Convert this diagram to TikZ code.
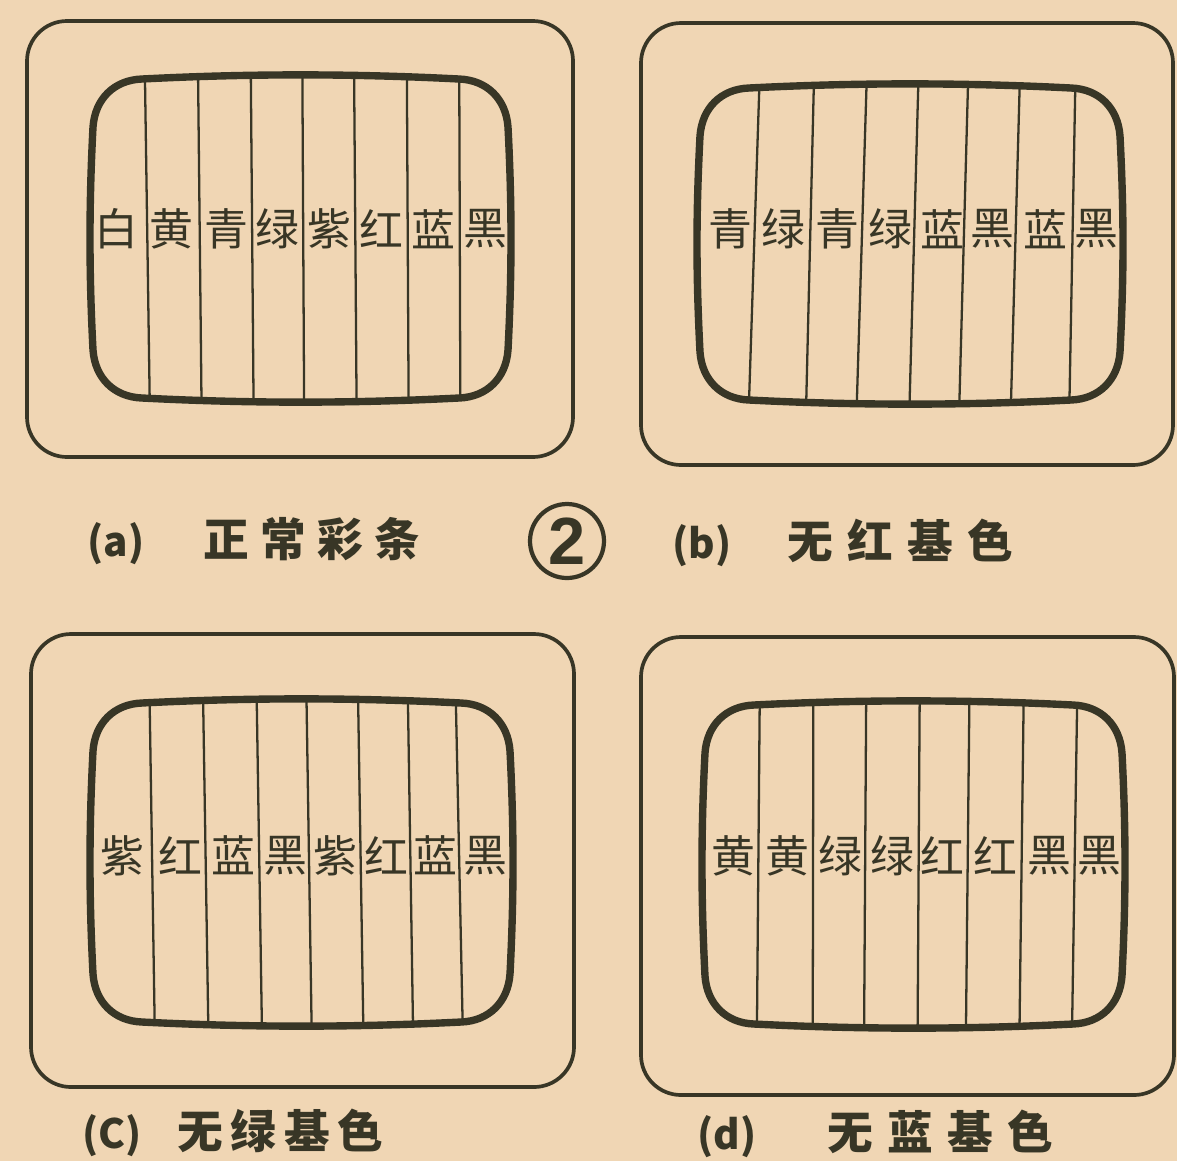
\documentclass[tikz,border=0pt]{standalone}
\usepackage{fontspec}
\newfontfamily\cjk{Noto Sans CJK SC}
\newfontfamily\numf{Liberation Sans}
\definecolor{paper}{RGB}{240,214,180}
\definecolor{ink}{RGB}{56,54,38}
% screen outline with slightly bulging edges: #1=left #2=top #3=right #4=bottom (pixels, y down)
\newcommand\scrshape[4]{%
 (#1+52,#2+4) .. controls (#1+160,#2-1.5) and (#3-160,#2-1.5) .. (#3-52,#2+4)
 .. controls (#3-24,#2+5) and (#3-5,#2+24) .. (#3-3,#2+52)
 .. controls (#3+1,#2+130) and (#3+1,#4-130) .. (#3-3,#4-52)
 .. controls (#3-5,#4-24) and (#3-24,#4-5) .. (#3-52,#4-4)
 .. controls (#3-160,#4+1.5) and (#1+160,#4+1.5) .. (#1+52,#4-4)
 .. controls (#1+24,#4-5) and (#1+5,#4-24) .. (#1+3,#4-52)
 .. controls (#1-1,#4-130) and (#1-1,#2+130) .. (#1+3,#2+52)
 .. controls (#1+5,#2+24) and (#1+24,#2+5) .. (#1+52,#2+4) -- cycle}
\newcommand\cc[1]{\makebox[\cpitch][c]{#1}}
\newcommand\lab[1]{{\fontsize{23}{23}\selectfont(#1)}}
\newlength\cpitch
\begin{document}
\begin{tikzpicture}[x=0.02cm,y=-0.02cm,
  outerbox/.style={draw=ink,line width=2.1pt,rounded corners=0.8cm},
  screenline/.style={draw=ink,line width=4.2pt},
  barline/.style={draw=ink,line width=1.3pt},
  bartext/.style={font=\cjk\fontsize{25}{25}\selectfont,text=ink,inner sep=0pt},
  captext/.style={font=\cjk\bfseries\fontsize{26}{26}\selectfont,text=ink,inner sep=0pt,anchor=west}]
\fill[paper] (0,0) rectangle (1177,1161);
\useasboundingbox (0,0) rectangle (1177,1161);

% ---------- (a) ----------
\draw[outerbox] (27,21) rectangle (573,457);
\begin{scope}
\clip \scrshape{90}{75}{511}{402};
\foreach \a/\b in {144.7/150,197.9/201.7,250.7/253.7,302.3/304.2,354/356.7,406.8/408.7,459.2/460.4}
  \draw[barline] (\a,60) -- (\b,420);
\end{scope}
\draw[screenline] \scrshape{90}{75}{511}{402};
\foreach \x/\c [count=\i] in {116/白,171/黄,226/青,277/绿,329/紫,381/红,433/蓝,485/黑}
  \node[bartext] (a\i) at (\x,229) {\c};
\setlength\cpitch{1.14cm}
\node[captext] (capa) at (87,541) {\makebox[2.22cm][l]{\lab{a}}\cc{正}\cc{常}\cc{彩}\cc{条}};

% ---------- (b) ----------
\draw[outerbox] (641,23) rectangle (1173,465);
\begin{scope}
\clip \scrshape{697}{84}{1123}{404};
\foreach \a/\b in {759.9/748.4,814.2/805.8,867/856.3,918.7/909.1,968.4/958.9,1020.1/1010.5,1075.6/1069.1}
  \draw[barline] (\a,70) -- (\b,420);
\end{scope}
\draw[screenline] \scrshape{697}{84}{1123}{404};
\foreach \x/\c [count=\i] in {730/青,783/绿,837/青,890/绿,942/蓝,992/黑,1045/蓝,1096/黑}
  \node[bartext] (b\i) at (\x,229) {\c};
\setlength\cpitch{1.2cm}
\node[captext] (capb) at (672,543) {\makebox[2.16cm][l]{\lab{b}}\cc{无}\cc{红}\cc{基}\cc{色}};

% ---------- circled number ----------
\node[circle,draw=ink,line width=2.4pt,minimum size=1.48cm,inner sep=0pt,
      font=\numf\bfseries\fontsize{38}{38}\selectfont,text=ink] (num) at (567,541) {2};

% ---------- (c) ----------
\draw[outerbox] (31,634) rectangle (574,1087);
\begin{scope}
\clip \scrshape{90}{699}{513}{1026};
\foreach \a/\b in {149.3/155,202.8/208.6,256.4/262.2,306.2/311.9,357.8/363.6,407.6/413.3,455.4/463.1}
  \draw[barline] (\a,680) -- (\b,1045);
\end{scope}
\draw[screenline] \scrshape{90}{699}{513}{1026};
\foreach \x/\c [count=\i] in {122.5/紫,180/红,233.5/蓝,285/黑,335/紫,386.5/红,435/蓝,485/黑}
  \node[bartext] (c\i) at (\x,855.5) {\c};
\setlength\cpitch{1.066cm}
\node[captext] (capc) at (82,1133) {\makebox[1.83cm][l]{\lab{C}}\cc{无}\cc{绿}\cc{基}\cc{色}};

% ---------- (d) ----------
\draw[outerbox] (641,637) rectangle (1174,1095);
\begin{scope}
\clip \scrshape{702}{701}{1125}{1028};
\foreach \a/\b in {759.9/756.8,813.4/812.7,866.3/864,919.8/917.5,969.6/965.8,1023.9/1019.3,1077.5/1071.8}
  \draw[barline] (\a,680) -- (\b,1045);
\end{scope}
\draw[screenline] \scrshape{702}{701}{1125}{1028};
\foreach \x/\c [count=\i] in {733/黄,787/黄,840/绿,892/绿,942/红,995/红,1049/黑,1099/黑}
  \node[bartext] (d\i) at (\x,855.5) {\c};
\setlength\cpitch{1.2cm}
\node[captext] (capd) at (697,1134) {\makebox[2.46cm][l]{\lab{d}}\cc{无}\cc{蓝}\cc{基}\cc{色}};
\end{tikzpicture}
\end{document}
